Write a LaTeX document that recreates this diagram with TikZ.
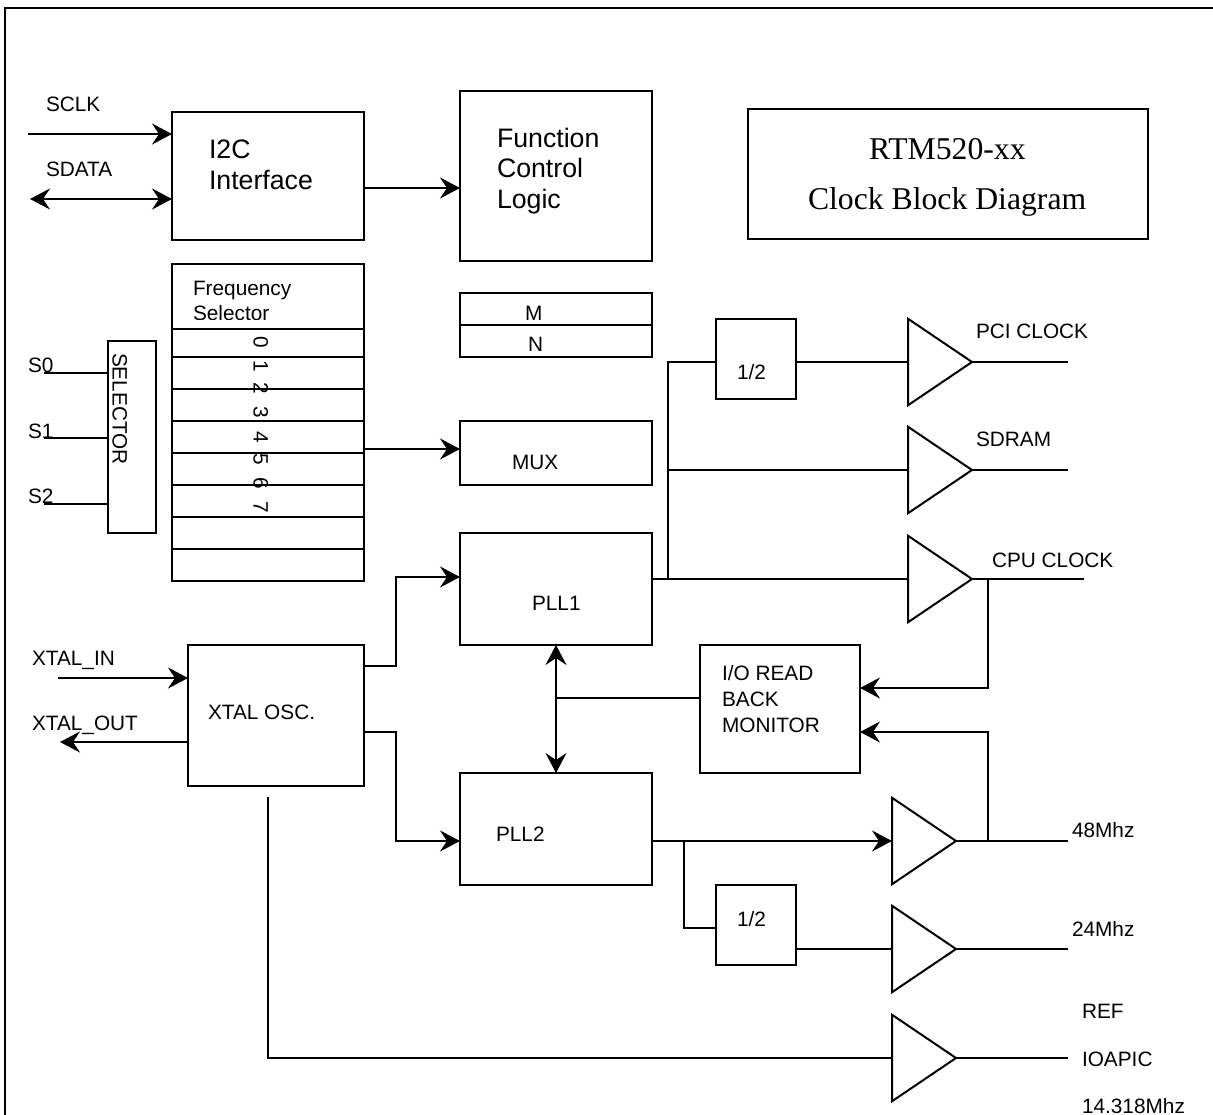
\documentclass[tikz,border=0pt]{standalone}
\usepackage{fontspec}
\setmainfont{Liberation Sans}
\newfontfamily\titlefont{Liberation Serif}
\usetikzlibrary{arrows.meta,shapes.geometric}
\tikzset{
  ln/.style={line width=2pt,line cap=butt,line join=miter},
  bx/.style={ln,draw,rectangle,inner sep=0pt,outer sep=0pt,anchor=north west},
  tribuf/.style={ln,draw,isosceles triangle,isosceles triangle apex angle=68,isosceles triangle stretches,
    minimum width=86.5pt,minimum height=64pt,inner sep=0pt,outer sep=0pt,anchor=apex},
  arr/.style={ln,-{Stealth[length=20pt,width=21pt,inset=7pt]}},
  biarr/.style={ln,{Stealth[length=20pt,width=21pt,inset=7pt]}-{Stealth[length=20pt,width=21pt,inset=7pt]}},
  sm/.style={anchor=base west,inner sep=0pt,outer sep=0pt,font=\fontsize{20.8}{24}\selectfont},
  lg/.style={anchor=base west,inner sep=0pt,outer sep=0pt,font=\fontsize{26.7}{30}\selectfont},
  ttl/.style={anchor=base west,inner sep=0pt,outer sep=0pt,font=\titlefont\fontsize{31.7}{36}\selectfont},
  digit/.style={anchor=base,rotate=-90,inner sep=0pt,outer sep=0pt,font=\fontsize{20.8}{24}\selectfont},
}
\newcommand{\bxn}[5]{\node[bx,minimum width=#4pt-#2pt,minimum height=#5pt-#3pt] (#1) at (#2,#3) {};}
\begin{document}
\begin{tikzpicture}[x=1pt,y=-1pt]
\useasboundingbox (0,0) rectangle (1213,1115);
\clip (0,0) rectangle (1213,1115);
\fill[white] (0,0) rectangle (1213,1115);
% outer frame
\coordinate (fa) at (5,1130);
\coordinate (fb) at (5,8);
\coordinate (fc) at (1230,8);
\draw[ln] (fa) -- (fb) -- (fc);
% boxes
\bxn{i2c}{172}{112}{364}{240}
\bxn{func}{460}{91}{652}{261}
\node[bx,line width=2.8pt,minimum width=400pt,minimum height=130pt] (ttlbox) at (748,109) {};
\bxn{f0}{172}{264}{364}{329}
\bxn{f1}{172}{329}{364}{357}
\bxn{f2}{172}{357}{364}{389}
\bxn{f3}{172}{389}{364}{421}
\bxn{f4}{172}{421}{364}{453}
\bxn{f5}{172}{453}{364}{485}
\bxn{f6}{172}{485}{364}{517}
\bxn{f7}{172}{517}{364}{549}
\bxn{f8}{172}{549}{364}{581}
\bxn{sel}{108}{341}{156}{533}
\bxn{mbox}{460}{293}{652}{325}
\bxn{nbox}{460}{325}{652}{357}
\bxn{mux}{460}{421}{652}{485}
\bxn{pll1}{460}{533}{652}{645}
\bxn{pll2}{460}{773}{652}{885}
\bxn{xtal}{188}{645}{364}{786}
\bxn{divA}{716}{319}{796}{399}
\bxn{divB}{716}{885}{796}{965}
\bxn{iomon}{700}{645}{860}{773}
% buffers
\node[tribuf] (tpci) at (972,362) {};
\node[tribuf] (tsd)  at (972,470) {};
\node[tribuf] (tcpu) at (972,579) {};
\node[tribuf] (t48)  at (956,841) {};
\node[tribuf] (t24)  at (956,949) {};
\node[tribuf] (tref) at (956,1058) {};
% free ends
\coordinate (sclkS) at (28,134);
\coordinate (sdataS) at (30,199);
\coordinate (s0S) at (44,373);
\coordinate (s1S) at (44,438);
\coordinate (s2S) at (44,504);
\coordinate (xinS) at (58,678);
\coordinate (xoutE) at (60,742);
\coordinate (refS) at (268,797);
\coordinate (pciE) at (1068,362);
\coordinate (sdE) at (1068,470);
\coordinate (cpuE) at (1084,579);
\coordinate (o48E) at (1068,841);
\coordinate (o24E) at (1068,949);
\coordinate (orefE) at (1068,1058);
\coordinate (vbus) at (556,698);
\coordinate (jA) at (668,579);
\coordinate (jB) at (988,579);
\coordinate (jC) at (988,841);
\coordinate (jD) at (684,841);
% connectors
\draw[arr] (sclkS) -- (i2c.west |- sclkS);
\draw[biarr] (sdataS) -- (i2c.west |- sdataS);
\draw[arr] (i2c.east |- 0,188) -- (func.west |- 0,188);
\draw[ln] (s0S) -- (sel.west |- s0S);
\draw[ln] (s1S) -- (sel.west |- s1S);
\draw[ln] (s2S) -- (sel.west |- s2S);
\draw[arr] (f4.east |- 0,449) -- (mux.west |- 0,449);
\draw[arr] (xinS) -- (xtal.west |- xinS);
\draw[arr] (xtal.west |- xoutE) -- (xoutE);
\draw[arr] (xtal.east |- 0,666) -- (396,666) -- (396,577) -- (pll1.west |- 0,577);
\draw[arr] (xtal.east |- 0,732) -- (396,732) -- (396,841) -- (pll2.west |- 0,841);
\draw[ln] (refS) -- (268,1058) -- (tref.west |- orefE);
\draw[ln] (pll1.east |- jA) -- (tcpu.west |- jA);
\draw[ln] (jA) -- (668,362) -- (divA.west |- 0,362);
\draw[ln] (divA.east |- 0,362) -- (tpci.west |- 0,362);
\draw[ln] (668,470) -- (tsd.west |- 0,470);
\draw[ln] (tpci.apex) -- (pciE);
\draw[ln] (tsd.apex) -- (sdE);
\draw[ln] (tcpu.apex) -- (cpuE);
\draw[arr] (jB) -- (988,688) -- (iomon.east |- 0,688);
\draw[arr] (jC) -- (988,732) -- (iomon.east |- 0,732);
\draw[arr] (pll2.east |- jD) -- (t48.west |- jD);
\draw[ln] (jD) -- (684,928) -- (divB.west |- 0,928);
\draw[ln] (divB.east |- 0,949) -- (t24.west |- 0,949);
\draw[ln] (t48.apex) -- (o48E);
\draw[ln] (t24.apex) -- (o24E);
\draw[ln] (tref.apex) -- (orefE);
\draw[ln] (iomon.west |- vbus) -- (vbus);
\draw[biarr] (pll1.south -| vbus) -- (pll2.north -| vbus);
% texts
\node[sm] (tSCLK) at (46,112) {SCLK};
\node[sm] (tSDATA) at (46,177) {SDATA};
\node[lg] (tI2C) at (209,159) {I2C};
\node[lg] (tIF) at (209,190) {Interface};
\node[lg] (tFn) at (497,148) {Function};
\node[lg] (tCt) at (497,178) {Control};
\node[lg] (tLg) at (497,209) {Logic};
\node[ttl] (tRTM) at (869,160) {RTM520-xx};
\node[ttl] (tCBD) at (808,210) {Clock Block Diagram};
\node[sm] (tFq) at (193,296) {Frequency};
\begin{scope}
\clip (170,300) rectangle (366,319.5);
\node[sm] (tSl) at (193,321) {Selector};
\end{scope}
\node[digit] (d0) at (253.5,342) {0};
\node[digit] (d1) at (253.5,366) {1};
\node[digit] (d2) at (253.5,388) {2};
\node[digit] (d3) at (253.5,412) {3};
\node[digit] (d4) at (253.5,437) {4};
\node[digit] (d5) at (253.5,459) {5};
\node[digit] (d6) at (253.5,483) {6};
\node[digit] (d7) at (253.5,507) {7};
\node[sm,rotate=-90] (tSel) at (112.5,353) {SELECTOR};
\node[sm] (tS0) at (28,372) {S0};
\node[sm] (tS1) at (28,438) {S1};
\node[sm] (tS2) at (28,503) {S2};
\node[sm] (tM) at (525,320) {M};
\node[sm] (tN) at (528,352) {N};
\node[sm] (tMUX) at (512,469) {MUX};
\node[sm] (tP1) at (532,610) {PLL1};
\node[sm] (tP2) at (496,841) {PLL2};
\node[sm] (tXO) at (208,719) {XTAL OSC.};
\node[sm] (tXI) at (32,665) {XTAL\_IN};
\node[sm] (tXU) at (32,730) {XTAL\_OUT};
\node[sm] (tIO1) at (722,680) {I/O READ};
\node[sm] (tIO2) at (722,706) {BACK};
\node[sm] (tIO3) at (722,732) {MONITOR};
\node[sm] (tPCI) at (976,338) {PCI CLOCK};
\node[sm] (tSD) at (976,446) {SDRAM};
\node[sm] (tCPU) at (992,567) {CPU CLOCK};
\node[sm] (t48t) at (1072,837) {48Mhz};
\node[sm] (t24t) at (1072,936) {24Mhz};
\node[sm] (tREF) at (1082,1018) {REF};
\node[sm] (tIOA) at (1082,1066) {IOAPIC};
\node[sm] (t14) at (1082,1113) {14.318Mhz};
\node[sm] (tdA) at (737,379) {1/2};
\node[sm] (tdB) at (737,926) {1/2};
\end{tikzpicture}
\end{document}
